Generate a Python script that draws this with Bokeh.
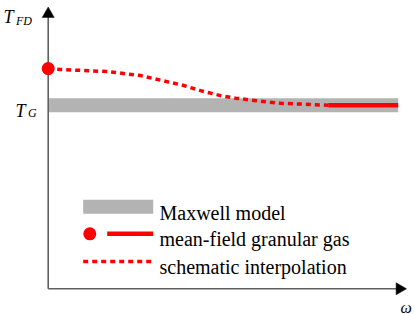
import math
from bokeh.plotting import figure
from bokeh.models import Range1d, Label
from bokeh.embed import file_html
from bokeh.resources import INLINE

# ---- data (T in units of T_G, omega in arbitrary units) ----
T_G = 1.0
T_FD = 1.2
omega_max = 10.0
omega_meanfield_start = 8.0
omega_interp = [0.0, 0.35, 1.69, 2.64, 3.87, 4.35, 4.92, 5.35, 6.07, 6.64, 7.58, 8.0]
T_interp = [1.20, 1.195, 1.184, 1.162, 1.108, 1.080, 1.053, 1.039, 1.022, 1.011, 1.004, 1.0]
legend_labels = ["Maxwell model", "mean-field granular gas", "schematic interpolation"]
axis_labels = {"y": ("T", "FD"), "ref": ("T", "G"), "x": "\u03c9"}

# ---- layout (page pixels -> data) ----
OFF = 0
W, H = 415, 314
OX, OY = 47.7, 288.3
SX, SY = 35.0, 183.5


def dx(px):
    return (px - OX) / SX


def dy(py):
    return (OY - py) / SY


p = figure(width=W, height=H,
           x_range=Range1d(dx(OFF), dx(OFF + W)), y_range=Range1d(dy(OFF + H), dy(OFF)),
           output_backend="svg", toolbar_location=None, min_border=0,
           x_axis_type=None, y_axis_type=None)
p.grid.visible = False
p.outline_line_color = None
p.background_fill_color = "white"
p.border_fill_color = "white"

GRAY = "#b3b3b3"
RED = "#ff0000"
AX = "#606060"
FONT = "Liberation Serif"

# Maxwell band
p.line([0, omega_max], [T_G, T_G], line_color=GRAY, line_width=14, line_cap="butt")
# interpolation
p.line(omega_interp, T_interp, line_color=RED, line_width=3.5, line_dash="5 4")
# mean-field solid
p.line([omega_meanfield_start, omega_max], [T_G, T_G], line_color=RED, line_width=4.5, line_cap="butt")

# axes (lines + arrowheads)
p.line([0, dx(398)], [0, 0], line_color=AX, line_width=1.6)
p.line([0, 0], [0, dy(14)], line_color=AX, line_width=1.6)
TRI = 12
h = TRI / 2 * math.sqrt(3)
p.scatter([dx(406 - 2 * h / 3)], [0], marker="triangle", size=TRI, angle=-math.pi / 2,
          fill_color="black", line_color="black", line_width=0.5)
p.scatter([0], [dy(6.5 + 2 * h / 3)], marker="triangle", size=TRI, angle=0,
          fill_color="black", line_color="black", line_width=0.5)

# mean-field point
dot = p.scatter([0], [T_FD], size=13, fill_color=RED, line_color=None)
dot.level = "overlay"


def lab(x, y, text, size, style="italic"):
    p.add_layout(Label(x=dx(x), y=dy(y), text=text, text_font=FONT,
                       text_font_size=f"{size}px", text_font_style=style,
                       text_color="black", text_baseline="alphabetic", text_align="left"))


lab(3, 16.5, axis_labels["y"][0], 18)
lab(15.5, 20.7, axis_labels["y"][1], 12)
lab(15, 110, axis_labels["ref"][0], 18)
lab(27.5, 112.7, axis_labels["ref"][1], 12)
lab(400, 306.5, axis_labels["x"], 16)

# legend
p.line([dx(82.7), dx(152.7)], [dy(206.3)] * 2, line_color=GRAY, line_width=14, line_cap="butt")
p.scatter([dx(89.3)], [dy(233.3)], size=13, fill_color=RED, line_color=None)
p.line([dx(106.7), dx(152.7)], [dy(233.3)] * 2, line_color=RED, line_width=4.5, line_cap="butt")
p.line([dx(82.7), dx(152.7)], [dy(261)] * 2, line_color=RED, line_width=3.5, line_dash="5 4")
for txt, base in zip(legend_labels, [212.7, 238.3, 266.0]):
    lab(159, base, txt, 20, style="normal")

open("out.html", "w").write(file_html(p, INLINE))
